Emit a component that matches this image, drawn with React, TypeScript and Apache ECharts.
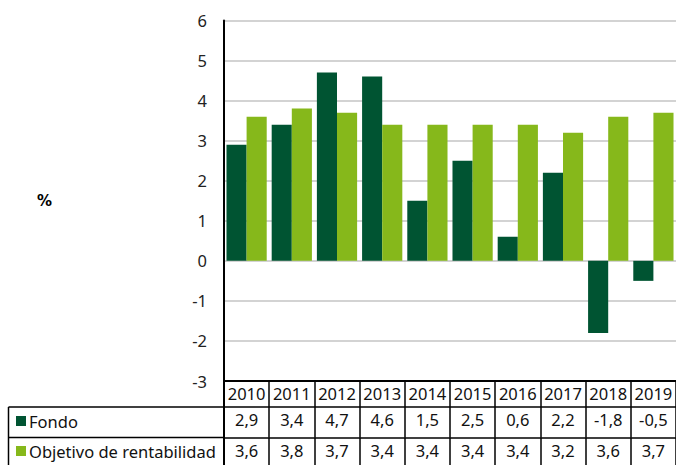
import React, { useEffect, useRef } from "react";
import * as echarts from "echarts";

const years = ["2010", "2011", "2012", "2013", "2014", "2015", "2016", "2017", "2018", "2019"];
const fondo = [2.9, 3.4, 4.7, 4.6, 1.5, 2.5, 0.6, 2.2, -1.8, -0.5];
const objetivo = [3.6, 3.8, 3.7, 3.4, 3.4, 3.4, 3.4, 3.2, 3.6, 3.7];
const seriesNames = ["Fondo", "Objetivo de rentabilidad"];
const yTicks = { min: -3, max: 6, interval: 1 };

const DARK = "#005432";
const LIGHT = "#86B81B";
const FONT = "Noto Sans";

const fmt = (v: number) => v.toFixed(1).replace(".", ",");

export default function App() {
  const ref = useRef<HTMLDivElement>(null);
  useEffect(() => {
    const chart = echarts.init(ref.current!, null, { renderer: "svg" });
    const gridLeft = 224;
    const gridTop = 20.5;
    const gridBottomY = 381;
    const row1 = 407;
    const row2 = 437.5;
    const tableBottom = 464;
    const tableLeft = 8.5;
    const labelStyle = { color: "#111", fontSize: 16.5, fontFamily: FONT };
    const tableAxis = (data: string[], offset: number, tickLen: number, lineW: number) => ({
      type: "category",
      data,
      position: "bottom",
      offset,
      gridIndex: 0,
      axisLine: { show: true, onZero: false, lineStyle: { color: "#000", width: lineW } },
      axisTick: { show: true, length: tickLen, lineStyle: { color: "#000", width: 1.5 } },
      axisLabel: { ...labelStyle, margin: 4, interval: 0 },
      splitLine: { show: false },
    });
    chart.setOption({
      animation: false,
      grid: { left: gridLeft, right: 0, top: gridTop, bottom: 465 - gridBottomY, containLabel: false },
      xAxis: [
        tableAxis(years, 0, row1 - gridBottomY, 2),
        tableAxis(fondo.map(fmt), row1 - gridBottomY, row2 - row1, 1.5),
        tableAxis(objetivo.map(fmt), row2 - gridBottomY, tableBottom - row2 + 2, 1.5),
      ],
      yAxis: {
        type: "value",
        min: yTicks.min,
        max: yTicks.max,
        interval: yTicks.interval,
        name: "%",
        nameLocation: "middle",
        nameRotate: 0,
        nameGap: 172,
        nameTextStyle: { color: "#000", fontSize: 15, fontWeight: "bold", fontFamily: "DejaVu Sans" },
        axisLine: { show: true, onZero: false, lineStyle: { color: "#000", width: 2 } },
        axisTick: { show: false },
        axisLabel: { color: "#222", fontSize: 16.5, fontFamily: FONT, margin: 17 },
        splitLine: { show: true, lineStyle: { color: "#C4C4C4", width: 1.6 } },
      },
      series: [
        {
          name: seriesNames[0],
          type: "bar",
          data: fondo,
          xAxisIndex: 0,
          barGap: "0%",
          barCategoryGap: "11%",
          itemStyle: { color: DARK },
        },
        {
          name: seriesNames[1],
          type: "bar",
          data: objetivo,
          xAxisIndex: 0,
          barGap: "0%",
          barCategoryGap: "11%",
          itemStyle: { color: LIGHT },
        },
      ],
      graphic: [
        { type: "line", shape: { x1: gridLeft, y1: gridBottomY, x2: gridLeft, y2: 465 }, style: { stroke: "#000", lineWidth: 2 } },
        { type: "line", shape: { x1: tableLeft, y1: row1, x2: gridLeft, y2: row1 }, style: { stroke: "#000", lineWidth: 1.5 } },
        { type: "line", shape: { x1: tableLeft, y1: row2, x2: gridLeft, y2: row2 }, style: { stroke: "#000", lineWidth: 1.5 } },
        { type: "line", shape: { x1: tableLeft, y1: row1, x2: tableLeft, y2: 465 }, style: { stroke: "#000", lineWidth: 1.5 } },
        { type: "rect", shape: { x: 16, y: 416, width: 10, height: 10 }, style: { fill: DARK } },
        { type: "rect", shape: { x: 16, y: 446, width: 10, height: 10 }, style: { fill: LIGHT } },
        { type: "text", x: 29, y: 421, style: { text: seriesNames[0], fill: "#111", font: `16.5px "${FONT}"`, verticalAlign: "middle" } },
        { type: "text", x: 29, y: 451, style: { text: seriesNames[1], fill: "#111", font: `16.5px "${FONT}"`, verticalAlign: "middle" } },
      ],
    });
    return () => chart.dispose();
  }, []);
  return <div ref={ref} style={{ width: 676, height: 465, position: "absolute", left: 0, top: 0 }} />;
}
